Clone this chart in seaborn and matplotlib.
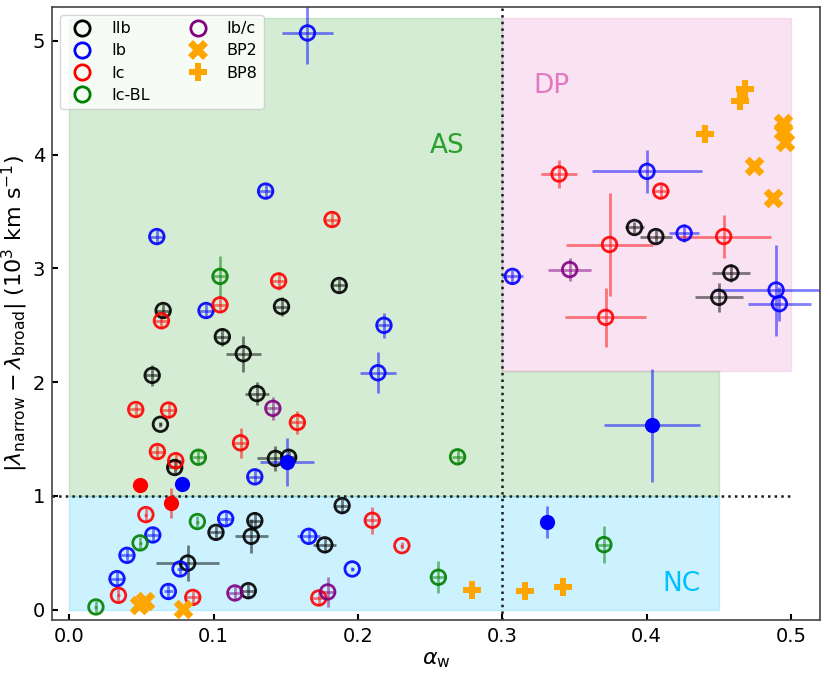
import numpy as np
import pandas as pd
import matplotlib
matplotlib.use("Agg")
import matplotlib.pyplot as plt
import seaborn as sns
from matplotlib.lines import Line2D

# ---------------- data ----------------
iib_x = [0.187, 0.065, 0.147, 0.106, 0.1205, 0.0574, 0.130, 0.0631, 0.1428, 0.152, 0.073,
         0.189, 0.1285, 0.1016, 0.126, 0.177, 0.082, 0.124, 0.3916, 0.4064, 0.4584, 0.450]
iib_y = [2.85, 2.63, 2.665, 2.40, 2.25, 2.06, 1.90, 1.63, 1.33, 1.34, 1.25,
         0.915, 0.783, 0.68, 0.645, 0.57, 0.41, 0.167, 3.36, 3.28, 2.96, 2.746]
iib_xerr = [0.005, 0.005, 0.005, 0.005, 0.012, 0.005, 0.008, 0.001, 0.0127, 0.005, 0.005,
            0.005, 0.005, 0.005, 0.0115, 0.008, 0.022, 0.005, 0.0067, 0.011, 0.013, 0.0166]
iib_yerr = [0.06, 0.06, 0.08, 0.08, 0.16, 0.09, 0.10, 0.02, 0.11, 0.06, 0.06,
            0.06, 0.08, 0.06, 0.15, 0.06, 0.16, 0.06, 0.05, 0.06, 0.08, 0.13]

ib_x = [0.165, 0.136, 0.0606, 0.0947, 0.218, 0.2138, 0.1285, 0.1083, 0.0578, 0.1659,
        0.0399, 0.0767, 0.196, 0.033, 0.0686, 0.4003, 0.426, 0.307, 0.4897, 0.492]
ib_y = [5.07, 3.68, 3.28, 2.63, 2.50, 2.083, 1.168, 0.80, 0.657, 0.645,
        0.478, 0.358, 0.358, 0.273, 0.16, 3.853, 3.31, 2.93, 2.81, 2.69]
ib_xerr = [0.018, 0.005, 0.005, 0.005, 0.005, 0.0127, 0.005, 0.005, 0.005, 0.008,
           0.005, 0.002, 0.001, 0.005, 0.003, 0.038, 0.0106, 0.007, 0.043, 0.022]
ib_yerr = [0.27, 0.06, 0.06, 0.06, 0.11, 0.18, 0.06, 0.06, 0.06, 0.06,
           0.06, 0.06, 0.02, 0.06, 0.07, 0.19, 0.077, 0.06, 0.40, 0.15]

ic_x = [0.182, 0.145, 0.1044, 0.0638, 0.046, 0.0687, 0.158, 0.1186, 0.061, 0.0737, 0.053,
        0.034, 0.0855, 0.1728, 0.2099, 0.2304, 0.3393, 0.4098, 0.4534, 0.3743, 0.3716]
ic_y = [3.43, 2.89, 2.68, 2.54, 1.76, 1.755, 1.646, 1.467, 1.39, 1.31, 0.836,
        0.126, 0.108, 0.103, 0.786, 0.563, 3.83, 3.68, 3.28, 3.21, 2.57]
ic_xerr = [0.005, 0.005, 0.005, 0.005, 0.005, 0.005, 0.005, 0.005, 0.005, 0.005, 0.001,
           0.001, 0.005, 0.005, 0.005, 0.001, 0.0127, 0.006, 0.033, 0.030, 0.028]
ic_yerr = [0.06, 0.08, 0.06, 0.06, 0.06, 0.06, 0.10, 0.13, 0.06, 0.08, 0.06,
           0.06, 0.06, 0.06, 0.12, 0.03, 0.12, 0.06, 0.19, 0.45, 0.26]

icbl_x = [0.1044, 0.0894, 0.269, 0.0887, 0.049, 0.0184, 0.2557, 0.3704]
icbl_y = [2.93, 1.34, 1.344, 0.775, 0.587, 0.024, 0.285, 0.572]
icbl_xerr = [0.005, 0.005, 0.004, 0.001, 0.001, 0.001, 0.005, 0.005]
icbl_yerr = [0.18, 0.06, 0.06, 0.05, 0.05, 0.05, 0.14, 0.16]

ibc_x = [0.141, 0.1147, 0.179, 0.3467]
ibc_y = [1.77, 0.147, 0.156, 2.99]
ibc_xerr = [0.005, 0.005, 0.005, 0.015]
ibc_yerr = [0.10, 0.06, 0.13, 0.10]

icf_x = [0.049, 0.0705]
icf_y = [1.094, 0.94]
icf_xerr = [0.0, 0.0]
icf_yerr = [0.02, 0.13]

ibf_x = [0.0783, 0.151, 0.331, 0.4038]
ibf_y = [1.109, 1.297, 0.77, 1.62]
ibf_xerr = [0.002, 0.0187, 0.0, 0.033]
ibf_yerr = [0.02, 0.21, 0.14, 0.50]

bp2_x = [0.048, 0.0525, 0.079, 0.4948, 0.4943, 0.496, 0.4745, 0.4879]
bp2_y = [0.045, 0.073, 0.006, 4.28, 4.21, 4.11, 3.90, 3.615]

bp8_x = [0.2787, 0.316, 0.342, 0.468, 0.465, 0.4407]
bp8_y = [0.176, 0.161, 0.197, 4.58, 4.47, 4.18]

# ---------------- figure ----------------
sns.set_theme(style="ticks")
plt.rcParams['font.family'] = ['DejaVu Sans']
plt.rcParams['mathtext.fontset'] = 'dejavusans'
plt.rcParams['text.color'] = 'black'
plt.rcParams['axes.labelcolor'] = 'black'
plt.rcParams['xtick.color'] = 'black'
plt.rcParams['ytick.color'] = 'black'

fig = plt.figure(figsize=(8.30, 6.79), dpi=100)
ax = fig.add_axes([0.0627, 0.087, 0.925, 0.903])

# regions
ax.fill([0, 0.3, 0.3, 0.45, 0.45, 0], [5.2, 5.2, 2.1, 2.1, 1, 1],
        color='tab:green', alpha=0.2, lw=1, zorder=0)
ax.fill([0.3, 0.5, 0.5, 0.3], [5.2, 5.2, 2.1, 2.1],
        color='tab:pink', alpha=0.2, lw=1, zorder=0)
ax.fill([0, 0.45, 0.45, 0], [1, 1, 0, 0],
        color='deepskyblue', alpha=0.2, lw=1, zorder=0)

ax.axvline(0.3, color='k', ls=':', lw=1.8, zorder=1)
ax.hlines(1, -0.1, 0.5, colors='k', linestyles=':', lw=1.8, zorder=1)

ax.text(0.262, 4.08, 'AS', color='tab:green', fontsize=19, ha='center', va='center')
ax.text(0.334, 4.6, 'DP', color='tab:pink', fontsize=19, ha='center', va='center')
ax.text(0.424, 0.23, 'NC', color='deepskyblue', fontsize=19, ha='center', va='center')

groups = [
    (iib_x, iib_y, iib_xerr, iib_yerr, 'black'),
    (ib_x, ib_y, ib_xerr, ib_yerr, 'blue'),
    (ic_x, ic_y, ic_xerr, ic_yerr, 'red'),
    (icbl_x, icbl_y, icbl_xerr, icbl_yerr, 'green'),
    (ibc_x, ibc_y, ibc_xerr, ibc_yerr, 'purple'),
]
for gx, gy, gxe, gye, col in groups:
    ax.errorbar(gx, gy, xerr=gxe, yerr=gye, fmt='none', ecolor=col,
                elinewidth=2, alpha=0.5, zorder=2)
    df = pd.DataFrame({'x': gx, 'y': gy})
    sns.scatterplot(data=df, x='x', y='y', ax=ax, marker='o', s=110,
                    facecolors='none', edgecolor=col, linewidth=2,
                    alpha=0.9, zorder=3, legend=False)

for gx, gy, gxe, gye, col in [(icf_x, icf_y, icf_xerr, icf_yerr, 'red'),
                              (ibf_x, ibf_y, ibf_xerr, ibf_yerr, 'blue')]:
    ax.errorbar(gx, gy, xerr=gxe, yerr=gye, fmt='none', ecolor=col,
                elinewidth=2, alpha=0.5, zorder=2)
    df = pd.DataFrame({'x': gx, 'y': gy})
    sns.scatterplot(data=df, x='x', y='y', ax=ax, marker='o', s=120,
                    color=col, edgecolor=col, linewidth=0, zorder=4, legend=False)

sns.scatterplot(x=bp2_x, y=bp2_y, ax=ax, marker='X', s=200, color='orange',
                linewidth=0, zorder=4, legend=False)
sns.scatterplot(x=bp8_x, y=bp8_y, ax=ax, marker='P', s=170, color='orange',
                linewidth=0, zorder=4, legend=False)

ax.set_xlim(-0.012, 0.52)
ax.set_ylim(-0.09, 5.3)
ax.set_xticks([0.0, 0.1, 0.2, 0.3, 0.4, 0.5])
ax.set_yticks([0, 1, 2, 3, 4, 5])
ax.tick_params(direction='in', length=4.5, width=1.5, labelsize=14, pad=5)
for sp in ax.spines.values():
    sp.set_linewidth(1.2)
    sp.set_color('#444444')

ax.set_xlabel(r'$\alpha_{\rm w}$', fontsize=16, labelpad=3)
ax.set_ylabel(r'$|\lambda_{\rm narrow} - \lambda_{\rm broad}|$ (10$^3$ km s$^{-1}$)',
              fontsize=16, labelpad=2)

handles = [
    Line2D([], [], ls='none', marker='o', ms=11, mfc='none', mec='black', mew=2, label='IIb'),
    Line2D([], [], ls='none', marker='o', ms=11, mfc='none', mec='blue', mew=2, label='Ib'),
    Line2D([], [], ls='none', marker='o', ms=11, mfc='none', mec='red', mew=2, label='Ic'),
    Line2D([], [], ls='none', marker='o', ms=11, mfc='none', mec='green', mew=2, label='Ic-BL'),
    Line2D([], [], ls='none', marker='o', ms=11, mfc='none', mec='purple', mew=2, label='Ib/c'),
    Line2D([], [], ls='none', marker='X', ms=14, mfc='orange', mec='orange', mew=0, label='BP2'),
    Line2D([], [], ls='none', marker='P', ms=13, mfc='orange', mec='orange', mew=0, label='BP8'),
]
ax.legend(handles=handles, loc='upper left', ncol=2, fontsize=11.5,
          frameon=True, framealpha=0.8, labelspacing=0.45, borderaxespad=0.5)

fig.savefig('out.png', dpi=100)
